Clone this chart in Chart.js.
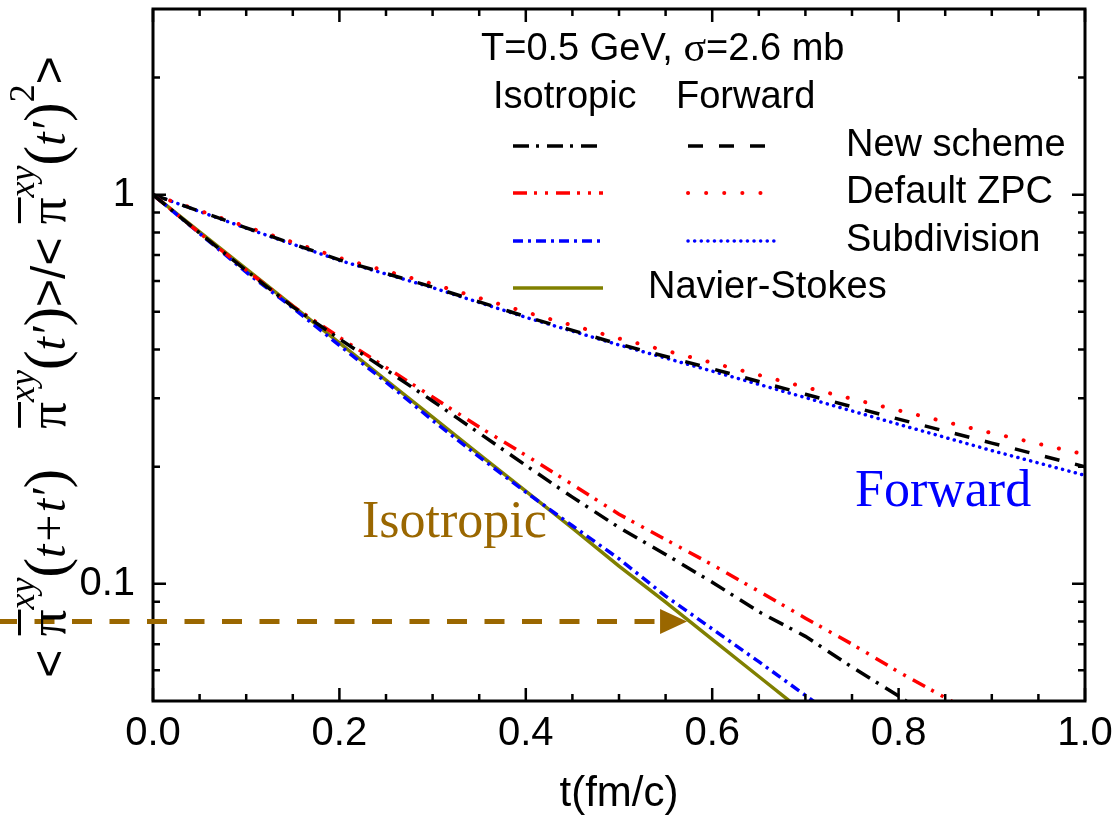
<!DOCTYPE html>
<html>
<head>
<meta charset="utf-8">
<script src="https://cdn.jsdelivr.net/npm/chart.js@4.4.1/dist/chart.umd.min.js"></script>
<style>
  html, body { margin: 0; padding: 0; background: #fff; }
  #c { display: block; width: 1115px; height: 815px; }
</style>
</head>
<body>
<canvas id="c" width="1115" height="815"></canvas>
<script>
// time grids (fm/c)
const tIso = [0, 0.05, 0.1, 0.15, 0.2, 0.25, 0.3, 0.35, 0.4, 0.45, 0.5, 0.55, 0.6, 0.65, 0.7, 0.75, 0.8, 0.85, 0.9];
const tFwd = [0, 0.1, 0.2, 0.3, 0.4, 0.5, 0.6, 0.7, 0.8, 0.9, 1.0];

// isotropic scattering
const isoNew = [1, 0.797, 0.638, 0.515, 0.426, 0.355, 0.295, 0.244, 0.2015, 0.167, 0.1396, 0.119, 0.101, 0.0848, 0.0733, 0.0611, 0.0515, 0.043, 0.036];
const isoZpc = [1, 0.797, 0.640, 0.517, 0.430, 0.360, 0.302, 0.253, 0.214, 0.180, 0.151, 0.130, 0.112, 0.0957, 0.0816, 0.070, 0.0594, 0.051, 0.044];
const isoSub = [1, 0.795, 0.632, 0.512, 0.410, 0.330, 0.263, 0.212, 0.172, 0.141, 0.116, 0.093, 0.0766, 0.0631, 0.0517, 0.0423, 0.035];
const navierStokes = [1, 0.803, 0.645, 0.518, 0.416, 0.334, 0.268, 0.215, 0.173, 0.139, 0.111, 0.0897, 0.0720, 0.0578, 0.0464, 0.0373];

// forward scattering
const fwdNew = [1, 0.822, 0.680, 0.579, 0.486, 0.413, 0.357, 0.307, 0.265, 0.230, 0.200];
const fwdZpc = [1, 0.828, 0.688, 0.590, 0.499, 0.427, 0.370, 0.320, 0.279, 0.244, 0.215];
const fwdSub = [1, 0.820, 0.678, 0.577, 0.484, 0.411, 0.352, 0.301, 0.257, 0.220, 0.190];

const seriesNames = ['New scheme', 'Default ZPC', 'Subdivision'];

// axes
const xMajor = [0, 0.2, 0.4, 0.6, 0.8, 1.0];
const xMinor = [0.05, 0.1, 0.15, 0.25, 0.3, 0.35, 0.45, 0.5, 0.55, 0.65, 0.7, 0.75, 0.85, 0.9, 0.95];
const yMajor = [0.1, 1];
const yMinor = [0.06, 0.07, 0.08, 0.09, 0.2, 0.3, 0.4, 0.5, 0.6, 0.7, 0.8, 0.9, 2];

// arrow marking the NS line at 0.08
const arrowLevel = 0.08;
const arrowTipT = 0.573;

const sans = '"Liberation Sans", Arial, sans-serif';
const serif = '"Liberation Serif", "Times New Roman", serif';
const brown = '#9a6700';
const olive = '#808000';

const pts = (ts, vs) => vs.map((v, i) => ({x: ts[i], y: v}));

const datasets = [
  {label: 'New scheme, isotropic', data: pts(tIso, isoNew), borderColor: '#000', borderWidth: 3.5, borderDash: [16, 7, 3, 8]},
  {label: 'Default ZPC, isotropic', data: pts(tIso, isoZpc), borderColor: '#f00', borderWidth: 3.5, borderDash: [14, 7, 3, 8, 3, 8]},
  {label: 'Subdivision, isotropic', data: pts(tIso, isoSub), borderColor: '#00f', borderWidth: 3.5, borderDash: [10, 5, 3, 5]},
  {label: 'New scheme, forward', data: pts(tFwd, fwdNew), borderColor: '#000', borderWidth: 3.5, borderDash: [15, 16]},
  {label: 'Default ZPC, forward', data: pts(tFwd, fwdZpc), borderColor: '#f00', borderWidth: 4, borderDash: [0.1, 18], borderCapStyle: 'round'},
  {label: 'Subdivision, forward', data: pts(tFwd, fwdSub), borderColor: '#00f', borderWidth: 3.5, borderDash: [0.1, 6.5], borderCapStyle: 'round'},
  {label: 'Navier-Stokes', data: pts(tIso, navierStokes), borderColor: olive, borderWidth: 3.5}
];

// frame with inward ticks on all four sides
const framePlugin = {
  id: 'frame',
  afterDatasetsDraw(chart) {
    const {ctx, chartArea: a, scales: {x, y}} = chart;
    ctx.save();
    ctx.strokeStyle = '#000';
    ctx.lineWidth = 3;
    ctx.strokeRect(a.left, a.top, a.right - a.left, a.bottom - a.top);
    ctx.lineWidth = 2.5;
    ctx.beginPath();
    const xt = (v, len) => {
      const px = x.getPixelForValue(v);
      ctx.moveTo(px, a.bottom); ctx.lineTo(px, a.bottom - len);
      ctx.moveTo(px, a.top); ctx.lineTo(px, a.top + len);
    };
    const yt = (v, len) => {
      const py = y.getPixelForValue(v);
      ctx.moveTo(a.left, py); ctx.lineTo(a.left + len, py);
      ctx.moveTo(a.right, py); ctx.lineTo(a.right - len, py);
    };
    xMajor.forEach(v => xt(v, 13));
    xMinor.forEach(v => xt(v, 7));
    yMajor.forEach(v => yt(v, 13));
    yMinor.forEach(v => yt(v, 7));
    ctx.stroke();
    ctx.restore();
  }
};

// legend, annotations and arrow
const legendPlugin = {
  id: 'legendBox',
  afterDatasetsDraw(chart) {
    const {ctx, scales: {x, y}} = chart;
    ctx.save();
    ctx.fillStyle = '#000';
    ctx.textBaseline = 'middle';
    ctx.textAlign = 'left';

    // title line with serif sigma
    let tx = 481;
    [['T=0.5 GeV, ', `38px ${sans}`], ['σ', `42px ${serif}`], ['=2.6 mb', `38px ${sans}`]].forEach(([s, f]) => {
      ctx.font = f;
      ctx.fillText(s, tx, 50);
      tx += ctx.measureText(s).width;
    });
    ctx.font = `38px ${sans}`;
    ctx.fillText('Isotropic', 493, 98);
    ctx.fillText('Forward', 676, 98);

    const sample = (ds, x0, x1, yy) => {
      ctx.save();
      ctx.strokeStyle = ds.borderColor;
      ctx.lineWidth = ds.borderWidth;
      ctx.lineCap = ds.borderCapStyle || 'butt';
      ctx.setLineDash(ds.borderDash || []);
      ctx.beginPath(); ctx.moveTo(x0, yy); ctx.lineTo(x1, yy); ctx.stroke();
      ctx.restore();
    };
    const rowY = [146, 193, 241];
    seriesNames.forEach((name, i) => {
      sample(datasets[i], 513, 603, rowY[i]);
      sample(datasets[i + 3], 688, 776, rowY[i]);
      ctx.fillText(name, 846, rowY[i]);
    });
    sample(datasets[6], 513, 603, 288);
    ctx.fillText('Navier-Stokes', 648, 288);

    // in-plot labels
    ctx.textBaseline = 'alphabetic';
    ctx.font = `52px ${serif}`;
    ctx.fillStyle = brown;
    ctx.fillText('Isotropic', 362, 537);
    ctx.fillStyle = '#00f';
    ctx.fillText('Forward', 855, 506);

    // dashed arrow
    const ax = x.getPixelForValue(arrowTipT);
    const ay = y.getPixelForValue(arrowLevel);
    ctx.strokeStyle = brown;
    ctx.fillStyle = brown;
    ctx.lineWidth = 5;
    ctx.setLineDash([20, 17.5]);
    ctx.lineDashOffset = 3;
    ctx.beginPath(); ctx.moveTo(0, ay); ctx.lineTo(ax - 27, ay); ctx.stroke();
    ctx.setLineDash([]);
    ctx.beginPath();
    ctx.moveTo(ax, ay); ctx.lineTo(ax - 27, ay - 12.5); ctx.lineTo(ax - 27, ay + 12.5);
    ctx.closePath(); ctx.fill();
    ctx.restore();
  }
};

// rotated y title built from mixed-font pieces
const yTitleParts = [
  {t: '<', f: `48px ${sans}`},
  {t: ' ', f: `48px ${sans}`},
  {t: 'π', f: `53px ${serif}`, bar: true},
  {t: 'xy', f: `italic 36px ${serif}`, dy: -31},
  {t: '(', f: `59px ${serif}`},
  {t: 't+t′', f: `italic 48px ${serif}`},
  {t: ')', f: `59px ${serif}`},
  {t: '   ', f: `48px ${sans}`},
  {t: 'π', f: `53px ${serif}`, bar: true},
  {t: 'xy', f: `italic 36px ${serif}`, dy: -31},
  {t: '(', f: `59px ${serif}`},
  {t: 't′', f: `italic 48px ${serif}`},
  {t: ')', f: `59px ${serif}`},
  {t: '>/<', f: `48px ${sans}`},
  {t: ' ', f: `48px ${sans}`},
  {t: 'π', f: `53px ${serif}`, bar: true},
  {t: 'xy', f: `italic 36px ${serif}`, dy: -31},
  {t: '(', f: `59px ${serif}`},
  {t: 't′', f: `italic 48px ${serif}`},
  {t: ')', f: `59px ${serif}`},
  {t: '2', f: `36px ${serif}`, dy: -31},
  {t: '>', f: `48px ${sans}`}
];

const yTitlePlugin = {
  id: 'yTitle',
  afterDraw(chart) {
    const ctx = chart.ctx;
    ctx.save();
    let total = 0;
    yTitleParts.forEach(p => { ctx.font = p.f; p.w = ctx.measureText(p.t).width; total += p.w; });
    ctx.translate(65, 367);
    ctx.rotate(-Math.PI / 2);
    ctx.fillStyle = '#000';
    ctx.textBaseline = 'alphabetic';
    ctx.textAlign = 'left';
    let px = -total / 2;
    yTitleParts.forEach(p => {
      ctx.font = p.f;
      ctx.fillText(p.t, px, p.dy || 0);
      if (p.bar) ctx.fillRect(px + 1, -47, p.w - 1, 3);
      px += p.w;
    });
    ctx.restore();
  }
};

new Chart(document.getElementById('c').getContext('2d'), {
  type: 'line',
  data: {datasets: datasets},
  options: {
    responsive: false,
    animation: false,
    clip: 0,
    layout: {padding: {top: 9, right: 30, left: 0, bottom: 0}},
    plugins: {legend: {display: false}, tooltip: {enabled: false}},
    elements: {point: {radius: 0}, line: {tension: 0, fill: false}},
    scales: {
      x: {
        type: 'linear', min: 0, max: 1,
        grid: {display: false, drawTicks: false},
        border: {display: false},
        afterBuildTicks: s => { s.ticks = xMajor.map(v => ({value: v})); },
        ticks: {callback: v => v.toFixed(1), font: {family: sans, size: 40}, color: '#000', padding: 9, maxRotation: 0, autoSkip: false},
        title: {display: true, text: 't(fm/c)', font: {family: sans, size: 42, lineHeight: 1}, color: '#000', padding: 0},
        afterFit: s => { s.height = 114; s.paddingLeft = 0; s.paddingRight = 0; }
      },
      y: {
        type: 'logarithmic', min: 0.05, max: 3,
        grid: {display: false, drawTicks: false},
        border: {display: false},
        afterBuildTicks: s => { s.ticks = yMajor.map(v => ({value: v})); },
        ticks: {callback: v => String(v), font: {family: sans, size: 40}, color: '#000', padding: 18, autoSkip: false},
        afterFit: s => { s.width = 153; s.paddingTop = 0; s.paddingBottom = 0; }
      }
    }
  },
  plugins: [framePlugin, legendPlugin, yTitlePlugin]
});
</script>
</body>
</html>
